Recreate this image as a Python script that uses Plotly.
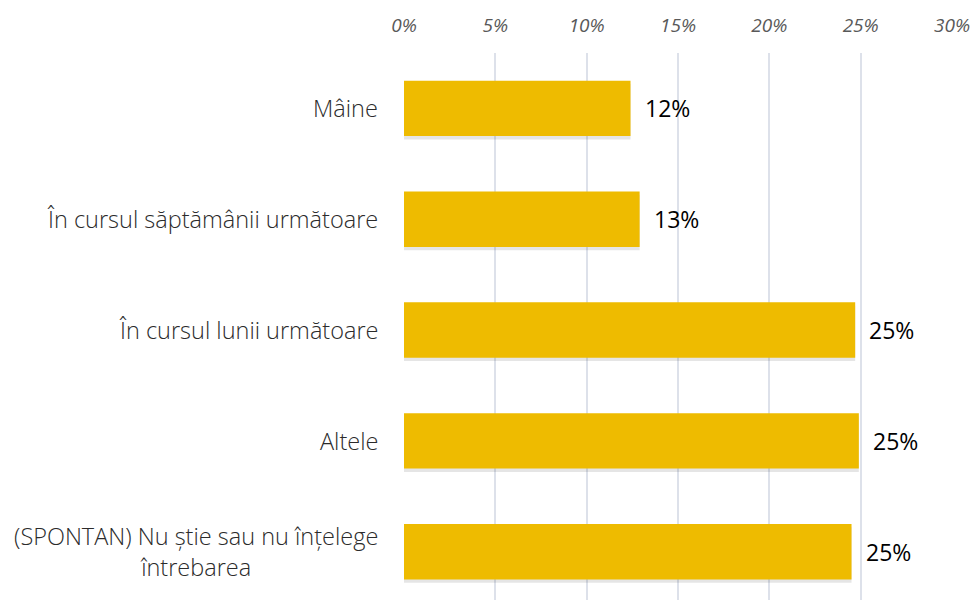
import plotly.graph_objects as go

categories = [
    "Mâine",
    "În cursul săptămânii următoare",
    "În cursul lunii următoare",
    "Altele",
    "(SPONTAN) Nu știe sau nu înțelege<br>întrebarea",
]
values = [12.4, 12.9, 24.7, 24.9, 24.5]
value_labels = ["12%", "13%", "25%", "25%", "25%"]
tick_vals = [0, 5, 10, 15, 20, 25, 30]
tick_text = ["0%", "5%", "10%", "15%", "20%", "25%", "30%"]

BAR = "#EEBB00"
FONT = "'Open Sans', sans-serif"

fig = go.Figure()

# soft shadow under bars
fig.add_trace(go.Bar(
    y=categories, x=values, orientation="h",
    marker=dict(color="rgba(0,0,0,0.10)", line=dict(width=0)),
    width=0.5, offset=-0.22, hoverinfo="skip", showlegend=False,
))
fig.add_trace(go.Bar(
    y=categories, x=values, orientation="h",
    marker=dict(color=BAR, line=dict(width=0)),
    width=0.5, offset=-0.25, showlegend=False,
))

annotations = []
for c, v, t in zip(categories, values, value_labels):
    annotations.append(dict(
        x=v, y=c, xref="x", yref="y", text=t, showarrow=False,
        xanchor="left", yanchor="middle", xshift=12,
        font=dict(family=FONT, size=23, color="#000000"),
    ))
    annotations.append(dict(
        x=0, y=c, xref="paper", yref="y", text=c, showarrow=False,
        xanchor="right", yanchor="middle", xshift=-24, align="center",
        font=dict(family=FONT, size=23.5, color="#2b2b2b", weight=300),
    ))

fig.update_layout(
    width=971, height=600,
    margin=dict(l=404, r=19, t=53, b=0),
    paper_bgcolor="white", plot_bgcolor="white",
    barmode="overlay",
    bargap=0.5,
    annotations=annotations,
    xaxis=dict(
        side="top", range=[0, 30], tickvals=tick_vals, ticktext=tick_text,
        showgrid=True, gridcolor="#DDE1EA", gridwidth=1.5,
        zeroline=False, showline=False,
        ticks="outside", ticklen=12, tickcolor="rgba(0,0,0,0)",
        tickfont=dict(family=FONT, size=19, color="#595959", style="italic"),
        fixedrange=True,
    ),
    yaxis=dict(
        categoryorder="array", categoryarray=categories,
        range=[4.436, -0.5], showticklabels=False,
        showgrid=False, zeroline=False, showline=False,
        fixedrange=True,
    ),
)

fig.write_html(
    "out.html",
    config={"displayModeBar": False},
    post_script="document.body.style.margin='0';document.body.style.padding='0';",
)
